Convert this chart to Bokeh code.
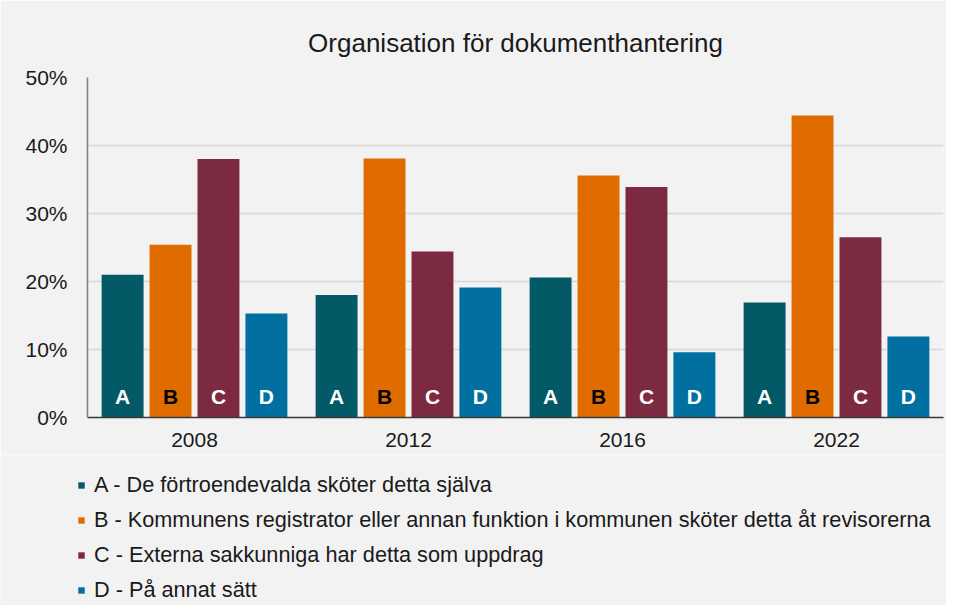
from bokeh.plotting import figure
from bokeh.models import (ColumnDataSource, Range1d, FixedTicker, NumeralTickFormatter,
                          Legend, LegendItem)
from bokeh.layouts import column
from bokeh.transform import dodge
from bokeh.core.properties import value
from bokeh.embed import file_html
from bokeh.resources import INLINE

# ---- data ----
years = ["2008", "2012", "2016", "2022"]
series_keys = ["A", "B", "C", "D"]
series_labels = [
    "A - De förtroendevalda sköter detta själva",
    "B - Kommunens registrator eller annan funktion i kommunen sköter detta åt revisorerna",
    "C - Externa sakkunniga har detta som uppdrag",
    "D - På annat sätt",
]
vals_A = [0.210, 0.180, 0.206, 0.169]
vals_B = [0.254, 0.381, 0.356, 0.444]
vals_C = [0.380, 0.244, 0.339, 0.265]
vals_D = [0.153, 0.191, 0.096, 0.119]
y_ticks = [0.0, 0.1, 0.2, 0.3, 0.4, 0.5]
title_text = "Organisation för dokumenthantering"

# ---- styles ----
colors = ["#035966", "#e06c00", "#7b2a41", "#0170a0"]
letter_colors = ["white", "black", "white", "white"]
offsets = [-0.336, -0.112, 0.112, 0.336]
FONT = "Liberation Sans"
BG = "#f2f2f2"
W = 946
H_TOP = 455
H_LEG = 150

source = ColumnDataSource(data=dict(year=years, A=vals_A, B=vals_B, C=vals_C, D=vals_D))

p = figure(x_range=years, y_range=Range1d(0, 0.5), width=W, height=H_TOP,
           output_backend="svg", toolbar_location=None,
           min_border_left=87, min_border_right=3, min_border_top=77,
           min_border_bottom=38)
p.frame_align = False

p.background_fill_color = BG
p.border_fill_color = BG
p.outline_line_color = None

p.title.text = title_text
p.title.align = "center"
p.title.text_font = FONT
p.title.text_font_size = "26px"
p.title.text_font_style = "normal"
p.title.text_color = "#1a1a1a"
p.title.standoff = 39

for key, col, off, lc in zip(series_keys, colors, offsets, letter_colors):
    p.vbar(x=dodge("year", off, range=p.x_range), top=key, width=0.196,
           bottom=0, source=source, fill_color=col, line_color=None)
    p.text(x=dodge("year", off, range=p.x_range), y=0, text=value(key), source=source,
           text_font=value(FONT), text_font_style="bold", text_font_size="21px",
           text_color=lc, text_align="center", text_baseline="middle", y_offset=-21)

# axes
p.yaxis.ticker = FixedTicker(ticks=y_ticks)
p.yaxis.formatter = NumeralTickFormatter(format="0%")
p.yaxis.major_tick_line_color = None
p.yaxis.minor_tick_line_color = None
p.yaxis.major_tick_out = 0
p.yaxis.major_tick_in = 0
p.yaxis.axis_line_color = "#7f7f7f"
p.yaxis.axis_line_width = 1.5
p.yaxis.major_label_standoff = 20
p.yaxis.major_label_text_font = FONT
p.yaxis.major_label_text_font_size = "21px"
p.yaxis.major_label_text_color = "#1a1a1a"

p.xaxis.major_tick_line_color = None
p.xaxis.major_tick_out = 0
p.xaxis.major_tick_in = 0
p.xaxis.axis_line_color = "#3a3a3a"
p.xaxis.axis_line_width = 1.5
p.xaxis.major_label_standoff = 15
p.xaxis.major_label_text_font = FONT
p.xaxis.major_label_text_font_size = "21px"
p.xaxis.major_label_text_color = "#1a1a1a"

p.xgrid.grid_line_color = None
p.ygrid.ticker = FixedTicker(ticks=y_ticks)
p.ygrid.grid_line_color = "#d6d6d6"
p.ygrid.grid_line_width = 1.5

# ---- legend panel (same series, drawn outside the visible range; only the legend shows) ----
q = figure(x_range=p.x_range, y_range=Range1d(1, 2), width=W, height=H_LEG,
           output_backend="svg", toolbar_location=None,
           min_border_left=0, min_border_right=0, min_border_top=0, min_border_bottom=0)
q.frame_align = False
q.background_fill_color = BG
q.border_fill_color = BG
q.outline_line_color = None
q.axis.visible = False
q.grid.visible = False

leg_renderers = []
for key, col, off in zip(series_keys, colors, offsets):
    r = q.vbar(x=dodge("year", off, range=q.x_range), top=key, width=0.196,
               bottom=0, source=source, fill_color=col, line_color=None)
    leg_renderers.append(r)

legend = Legend(items=[LegendItem(label=lab, renderers=[r])
                       for lab, r in zip(series_labels, leg_renderers)],
                location=(77, 2), orientation="vertical",
                glyph_width=8, glyph_height=8, label_height=24, spacing=9,
                padding=0, margin=0, label_standoff=9,
                label_text_font=FONT, label_text_font_size="21.7px",
                label_text_color="#1a1a1a",
                background_fill_alpha=0, border_line_color=None)
q.add_layout(legend)

layout = column(p, q, spacing=0)
open("out.html", "w").write(file_html(layout, INLINE))
